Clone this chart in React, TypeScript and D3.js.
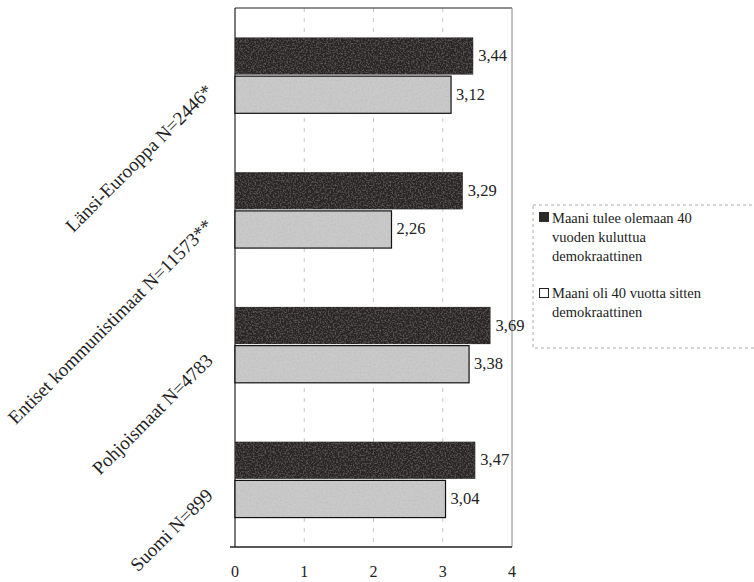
import React from "react";
import * as d3 from "d3";

const categories = [
  "Länsi-Eurooppa N=2446*",
  "Entiset kommunistimaat N=11573**",
  "Pohjoismaat N=4783",
  "Suomi N=899",
];
const seriesNames = ["Maani tulee olemaan 40 vuoden kuluttua demokraattinen", "Maani oli 40 vuotta sitten demokraattinen"];
const futureValues = [3.44, 3.29, 3.69, 3.47];
const pastValues = [3.12, 2.26, 3.38, 3.04];
const xTicks = [0, 1, 2, 3, 4];
const legendLines1 = ["Maani tulee olemaan 40", "vuoden kuluttua", "demokraattinen"];
const legendLines2 = ["Maani oli 40 vuotta sitten", "demokraattinen"];

const W = 754;
const H = 582;
const font = "Liberation Serif, DejaVu Serif, Times New Roman, serif";

export default function App() {
  const x = d3.scaleLinear().domain([0, 4]).range([235, 512]);
  const y0 = d3.scaleBand<string>().domain(categories).range([8, 547]).padding(0);
  const y1 = d3
    .scaleBand<string>()
    .domain(["future", "past"])
    .range([0, y0.bandwidth()])
    .paddingInner(0.04)
    .paddingOuter(0.76);
  const fmt = (v: number) => v.toFixed(2).replace(".", ",");
  const top = 8, bottom = 547;

  return (
    <svg
      width={W}
      height={H}
      style={{ position: "absolute", left: 0, top: 0, background: "#fff", fontFamily: font }}
    >
      <defs>
        <filter id="noiseDark" x="0" y="0" width="100%" height="100%">
          <feTurbulence type="fractalNoise" baseFrequency="0.6" numOctaves="2" seed="3" result="n" />
          <feColorMatrix in="n" type="matrix" values="0 0 0 0 0.3  0 0 0 0 0.28  0 0 0 0 0.28  0 0 0 0.8 -0.35" result="nc" />
          <feComposite in="nc" in2="SourceGraphic" operator="in" result="nm" />
          <feMerge>
            <feMergeNode in="SourceGraphic" />
            <feMergeNode in="nm" />
          </feMerge>
        </filter>
        <filter id="noiseLight" x="0" y="0" width="100%" height="100%">
          <feTurbulence type="fractalNoise" baseFrequency="0.5" numOctaves="3" seed="7" result="n" />
          <feColorMatrix in="n" type="matrix" values="0 0 0 0 0.5  0 0 0 0 0.5  0 0 0 0 0.5  0 0 0 1.4 -0.55" result="nc" />
          <feComposite in="nc" in2="SourceGraphic" operator="in" result="nm" />
          <feMerge>
            <feMergeNode in="SourceGraphic" />
            <feMergeNode in="nm" />
          </feMerge>
        </filter>
      </defs>

      {/* gridlines */}
      {xTicks.slice(1, -1).map((t) => (
        <line key={t} x1={x(t)} x2={x(t)} y1={top} y2={bottom} stroke="#c8c8c8" strokeWidth={1} strokeDasharray="4,6" />
      ))}

      {/* frame */}
      <line x1={x(0)} x2={x(4)} y1={top} y2={top} stroke="#222" strokeWidth={1} />
      <line x1={x(4)} x2={x(4)} y1={top} y2={bottom} stroke="#888" strokeWidth={1} />
      <line x1={x(0)} x2={x(0)} y1={top} y2={bottom} stroke="#222" strokeWidth={1.2} />
      <line x1={x(0) - 5} x2={x(4)} y1={bottom} y2={bottom} stroke="#222" strokeWidth={1.5} />

      {/* bars */}
      {categories.map((c, i) => {
        const by = y0(c)!;
        const yf = by + y1("future")!;
        const yp = by + y1("past")!;
        const h = y1.bandwidth();
        return (
          <g key={c}>
            <rect x={x(0)} y={yf} width={x(futureValues[i]) - x(0)} height={h} fill="#2b2828" filter="url(#noiseDark)" />
            <rect x={x(0)} y={yp} width={x(pastValues[i]) - x(0)} height={h} fill="#cacaca" filter="url(#noiseLight)" />
            <rect x={x(0)} y={yp} width={x(pastValues[i]) - x(0)} height={h} fill="none" stroke="#111" strokeWidth={1.2} />
            <text x={x(futureValues[i]) + 5} y={yf + h / 2 + 5} fontSize={16.5} fill="#222">
              {fmt(futureValues[i])}
            </text>
            <text x={x(pastValues[i]) + 5} y={yp + h / 2 + 5} fontSize={16.5} fill="#222">
              {fmt(pastValues[i])}
            </text>
            <text
              transform={`translate(${214},${by + y0.bandwidth() / 2 + 17}) rotate(-45)`}
              textAnchor="end"
              fontSize={19}
              fill="#222"
            >
              {c}
            </text>
          </g>
        );
      })}

      {/* x tick labels */}
      {xTicks.map((t) => (
        <text key={t} x={x(t)} y={577} textAnchor="middle" fontSize={16} fill="#222">
          {t}
        </text>
      ))}

      {/* legend */}
      <g>
        <rect x={533} y={205} width={240} height={143} fill="#fff" stroke="#aaa" strokeWidth={1} strokeDasharray="3,3" />
        <rect x={539} y={212} width={10} height={10} fill="#2b2828" />
        {legendLines1.map((l, k) => (
          <text key={l} x={552} y={223 + k * 19} fontSize={14.5} fill="#222">
            {l}
          </text>
        ))}
        <rect x={539.5} y={288.5} width={9} height={9} fill="#fff" stroke="#222" strokeWidth={1} />
        {legendLines2.map((l, k) => (
          <text key={l} x={552} y={298 + k * 19} fontSize={14.5} fill="#222">
            {l}
          </text>
        ))}
        <title>{seriesNames.join(" / ")}</title>
      </g>
    </svg>
  );
}
